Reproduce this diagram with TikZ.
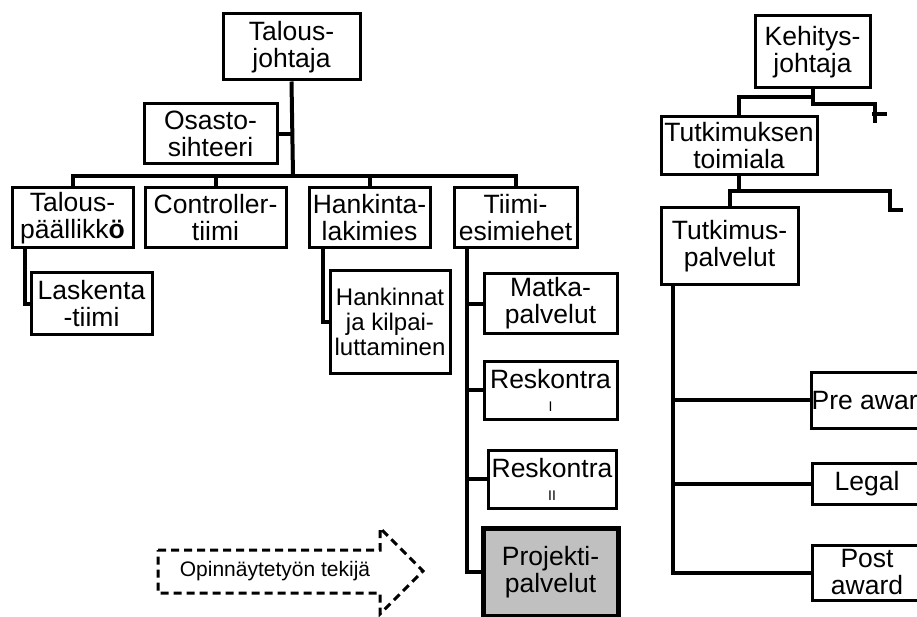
\documentclass[tikz,border=0pt]{standalone}
\usepackage{fontspec}
\setmainfont{Liberation Sans}
\usetikzlibrary{positioning}
\definecolor{projgray}{RGB}{192,192,192}

\begin{document}
\begin{tikzpicture}[
        x=1pt, y=-1pt,
        every node/.style={align=center, inner sep=0pt},
        box/.style={draw, line width=3pt, fill=white, font=\fontsize{26.5}{27}\selectfont},
        projbox/.style={box, line width=5pt, fill=projgray},
        link/.style={line width=4pt},
        thesis/.style={draw, line width=3pt, dash pattern=on 8pt off 5pt}
    ]
    \useasboundingbox (0,0) rectangle (917,617);

    % Nodes, talous
    \node[box, minimum width=137pt, minimum height=66pt] (tjoht) at (291.5,47) {Talous-\\johtaja};
    \node[box, minimum width=133pt, minimum height=60pt] (osasto) at (210.5,134) {Osasto-\\sihteeri};
    \node[box, minimum width=121pt, minimum height=60pt] (tpaal) at (72.5,218) {Talous-\\päällikk\textbf{ö}};
    \node[box, minimum width=141pt, minimum height=60pt] (contr) at (215.5,218) {Controller-\\tiimi};
    \node[box, minimum width=121pt, minimum height=60pt] (hlaki) at (369.5,218) {Hankinta-\\lakimies};
    \node[box, minimum width=123pt, minimum height=60pt] (tiimi) at (515.5,218) {Tiimi-\\esimiehet};
    \node[box, minimum width=121pt, minimum height=61pt] (lask) at (91.5,303.5) {Laskenta\\-tiimi};
    \node[box, minimum width=120pt, minimum height=102pt, font=\fontsize{24}{25}\selectfont] (hank) at (390,322)
        {Hankinnat\\ja kilpai-\\luttaminen};

    \node[box, minimum width=133pt, minimum height=59pt] (matka) at (550.5,303.5) {Matka-\\palvelut};
    \node[box, minimum width=133pt, minimum height=58pt, below=25pt of matka] (resk1)
        {Reskontra\\[-4pt]{\fontsize{14}{15}\selectfont I}};
    \node[box, minimum width=128pt, minimum height=58pt] (resk2) at (552,479)
        {Reskontra\\[-4pt]{\fontsize{14}{15}\selectfont II}};
    \node[projbox, minimum width=135pt, minimum height=88pt] (projekti) at (550.5,572) {Projekti-\\palvelut};

    % Nodes, kehitys
    \node[box, minimum width=115pt, minimum height=72pt] (kehit) at (812.5,52) {Kehitys-\\johtaja};
    \node[box, minimum width=156pt, minimum height=58pt] (tutki) at (739,146) {Tutkimuksen\\toimiala};
    \node[box, minimum width=137pt, minimum height=77pt] (tpalv) at (729.5,246.5) {Tutkimus-\\palvelut};
    \node[box, minimum width=120pt, minimum height=56pt] (pre) at (872,400) {Pre award};
    \node[box, minimum width=110pt, minimum height=41pt] (legal) at (867,483.5) {Legal};
    \node[box, minimum width=110pt, minimum height=55pt] (post) at (867,572.5) {Post\\award};

    % Connectors, talous
    \coordinate (bus) at (293,176);
    \draw[link] (tjoht.south) -- (bus);
    \draw[link] (osasto.east) -- (osasto.east -| tjoht.south);
    \foreach \n in {tpaal,contr,hlaki,tiimi}
        \draw[link] (bus) -| (\n.north);
    \draw[link] ([xshift=-47.5pt]tpaal.south) |- (lask.west);
    \draw[link] ([xshift=-46.5pt]hlaki.south) |- (hank.west);
    \coordinate (ttrunk) at ([xshift=-48.5pt]tiimi.south);
    \draw[link] (ttrunk) |- (projekti.west);
    \foreach \n in {matka,resk1,resk2}
        \draw[link] (ttrunk |- \n.west) -- (\n.west);

    % Connectors, kehitys
    \coordinate (kfork) at (812.5,97);
    \coordinate (kbend) at (812.5,104);
    \coordinate (kout) at (875,123);
    \coordinate (ktick) at (887,114);
    \draw[link] (kehit.south) -- (kbend) -| (kout);
    \draw[link] ([xshift=-3pt]kout |- ktick) -- (ktick);
    \draw[link] (kfork) -| (tutki.north);
    \coordinate (tfork) at (739,191);
    \coordinate (tout) at (903,210);
    \draw[link] (tutki.south) -- (tfork) -| (tpalv.north);
    \draw[link] (tfork) -| ([xshift=-13pt]tout) -- (tout);
    \coordinate (ptrunk) at ([xshift=-56.5pt]tpalv.south);
    \draw[link] (ptrunk) |- (post.west);
    \foreach \n in {pre,legal}
        \draw[link] (ptrunk |- \n.west) -- (\n.west);

    % Dashed arrow
    \draw[thesis] (158,550) -- (380,550) -- (380,528) -- (423,571)
        -- (380,614) -- (380,593) -- (158,593) -- cycle;
    \node[font=\fontsize{21}{22}\selectfont] (tekija) at (275,571) {Opinnäytetyön tekijä};
\end{tikzpicture}
\end{document}
